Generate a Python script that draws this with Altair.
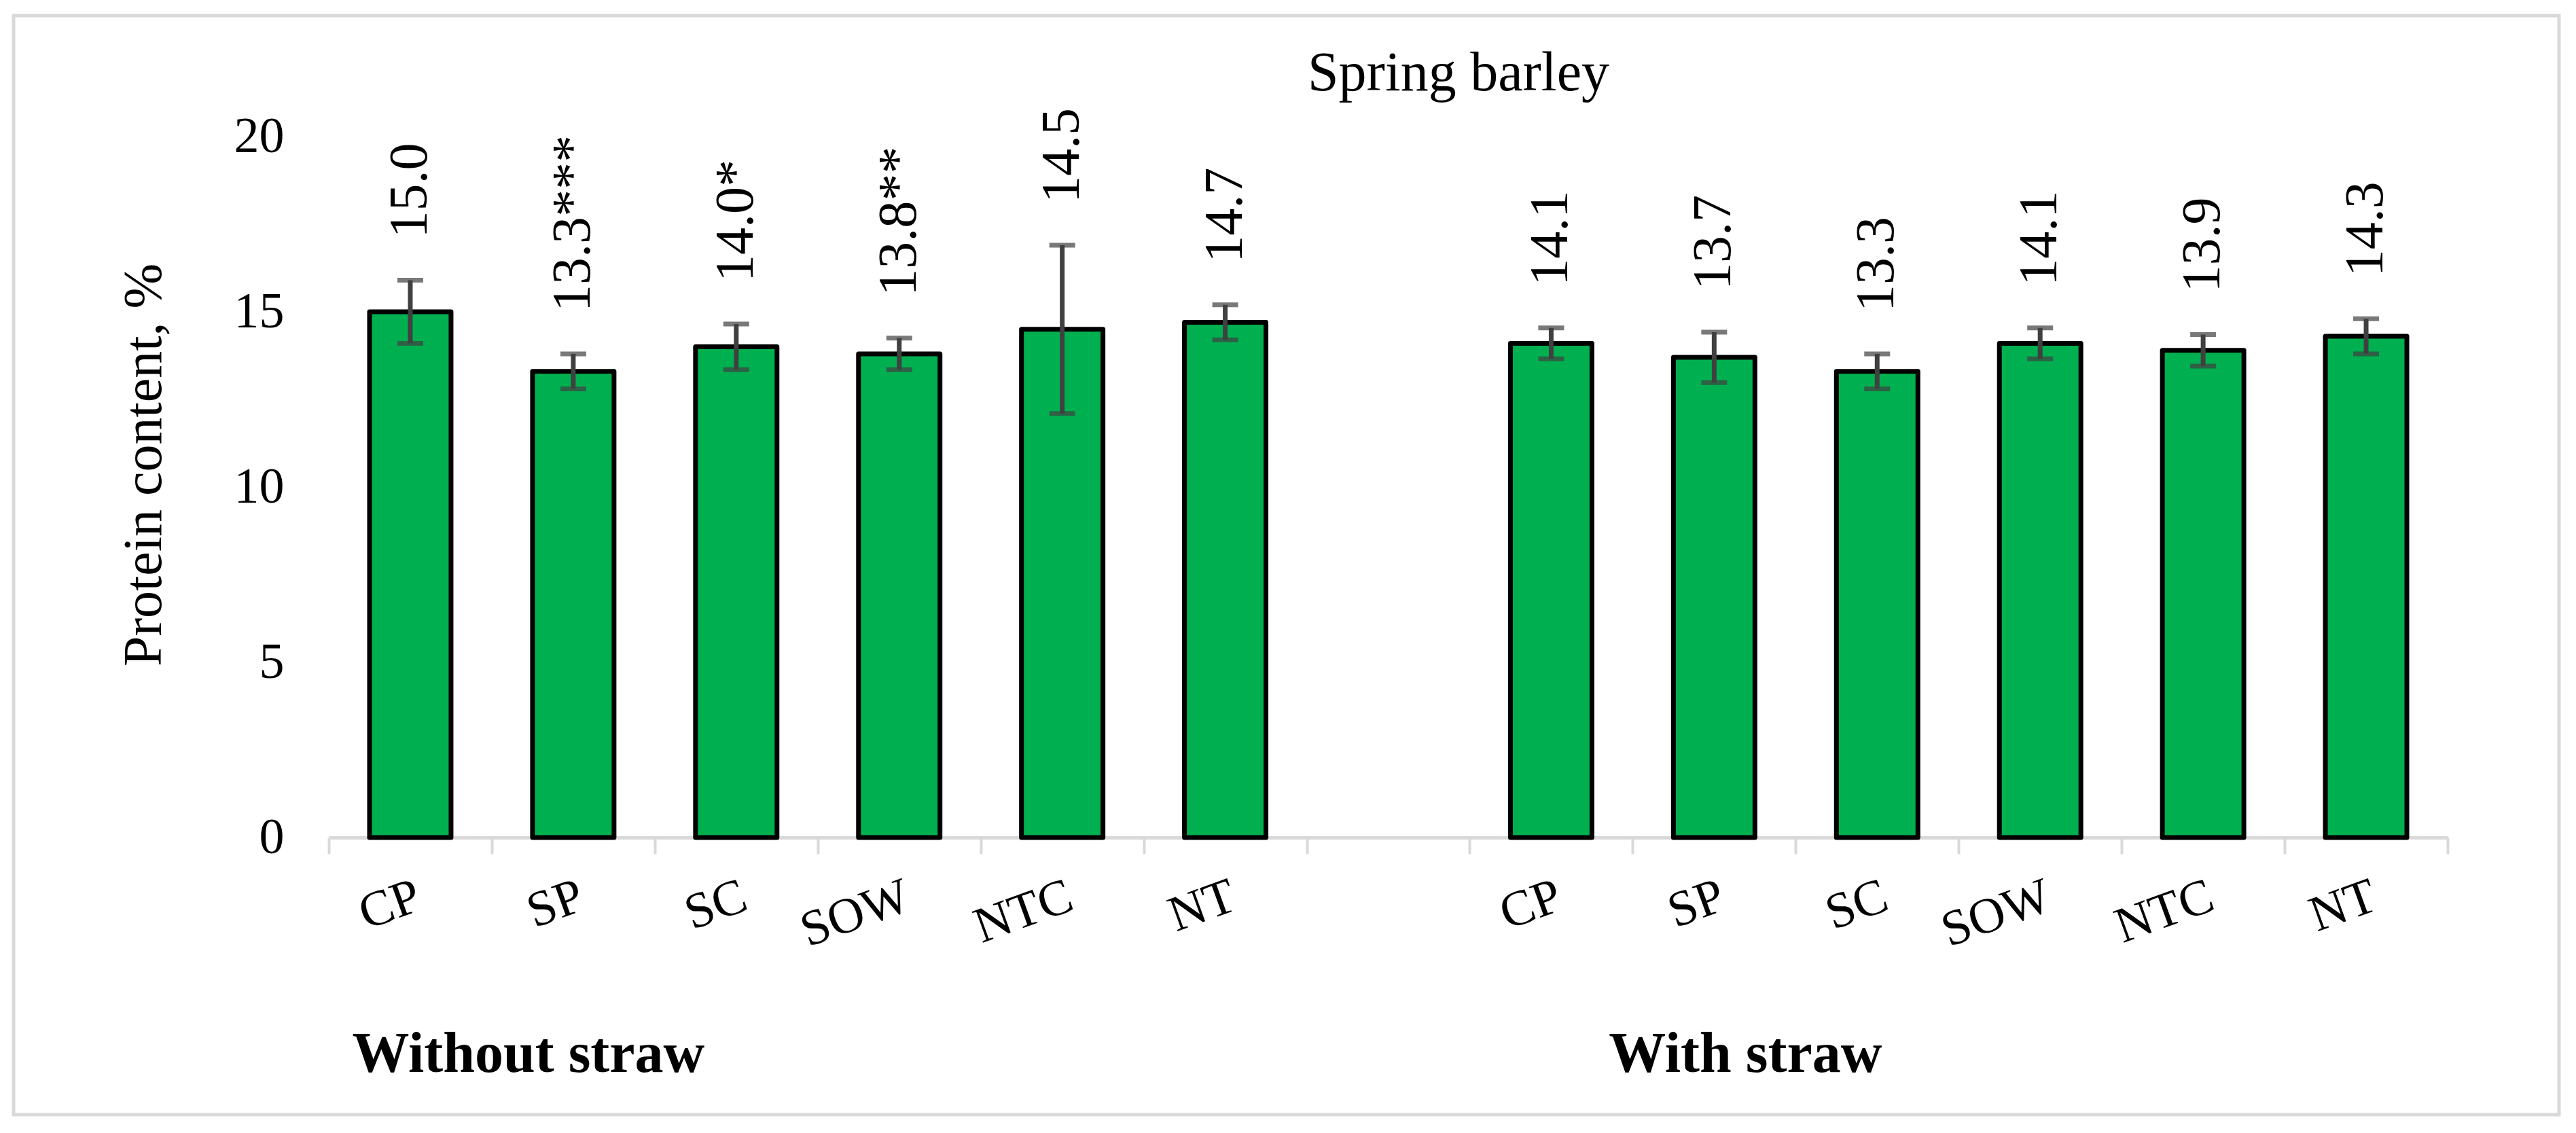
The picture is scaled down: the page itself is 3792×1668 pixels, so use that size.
import altair as alt
import pandas as pd

# ---- data ----
treatments = ["CP", "SP", "SC", "SOW", "NTC", "NT"]
without_values = [15.0, 13.3, 14.0, 13.8, 14.5, 14.7]
without_err = [0.9, 0.5, 0.65, 0.45, 2.4, 0.5]
without_sig = ["", "***", "*", "**", "", ""]
with_values = [14.1, 13.7, 13.3, 14.1, 13.9, 14.3]
with_err = [0.44, 0.72, 0.5, 0.44, 0.45, 0.5]
with_sig = ["", "", "", "", "", ""]
groups = ["Without straw", "With straw"]
y_ticks = [0, 5, 10, 15, 20]
title_text = "Spring barley"
y_title = "Protein content, %"

# unique keys per slot (trailing spaces trimmed in the axis labels)
keys_without = list(treatments)
keys_with = [t + " " for t in treatments]
gap_key = "  "
domain = keys_without + [gap_key] + keys_with

rows = []
for k, v, e, s in zip(keys_without, without_values, without_err, without_sig):
    rows.append({"key": k, "value": v, "err": e, "label": f"{v:.1f}{s}"})
for k, v, e, s in zip(keys_with, with_values, with_err, with_sig):
    rows.append({"key": k, "value": v, "err": e, "label": f"{v:.1f}{s}"})
df = pd.DataFrame(rows)

FONT = "Liberation Serif"
W, H = 3119, 1032
GRAY = "#d9d9d9"
ERR = "#404040"

xscale = alt.Scale(domain=domain, paddingInner=0, paddingOuter=0)
x = alt.X(
    "key:N",
    scale=xscale,
    sort=domain,
    axis=alt.Axis(
        title=None,
        labelExpr="trim(datum.label)",
        labelAngle=-20,
        labelFont=FONT,
        labelFontSize=74,
        labelColor="black",
        labelPadding=26,
        domainColor=GRAY,
        domainWidth=5,
        tickColor=GRAY,
        tickWidth=4,
        tickSize=24,
        tickBand="extent",
        grid=False,
    ),
)
yscale = alt.Scale(domain=[0, 20], nice=False)
y = alt.Y(
    "value:Q",
    scale=yscale,
    axis=alt.Axis(
        values=y_ticks,
        title=y_title,
        titleFont=FONT,
        titleFontSize=80,
        titleFontWeight="normal",
        titleColor="black",
        titleX=-272,
        titleY=483,
        titleAngle=270,
        titleAlign="center",
        titleBaseline="middle",
        labelFont=FONT,
        labelFontSize=74,
        labelColor="black",
        labelPadding=66,
        domain=False,
        ticks=False,
        tickSize=0,
        grid=False,
    ),
)

base = alt.Chart(df).transform_calculate(
    lo="datum.value - datum.err", hi="datum.value + datum.err"
)

frame = alt.Chart(pd.DataFrame({"a": [0]})).mark_rect(
    fill="transparent", stroke=GRAY, strokeWidth=5
).encode(
    x=alt.value(-464), x2=alt.value(3283), y=alt.value(-178), y2=alt.value(1440)
)

bars = base.mark_bar(
    width={"band": 0.5}, color="#00b050", stroke="black", strokeWidth=7,
    strokeJoin="round",
).encode(x=x, y=y)

rule = base.mark_rule(color=ERR, strokeWidth=7).encode(
    x=alt.X("key:N", scale=xscale, sort=domain),
    y=alt.Y("lo:Q", scale=yscale),
    y2="hi:Q",
)
cap_hi = base.mark_tick(orient="horizontal", size=38, thickness=7, color=ERR).encode(
    x=alt.X("key:N", scale=xscale, sort=domain), y=alt.Y("hi:Q", scale=yscale)
)
cap_lo = base.mark_tick(orient="horizontal", size=38, thickness=7, color=ERR).encode(
    x=alt.X("key:N", scale=xscale, sort=domain), y=alt.Y("lo:Q", scale=yscale)
)
labels = base.mark_text(
    angle=270, align="left", baseline="middle", dx=62,
    font=FONT, fontSize=80, color="black",
).encode(
    x=alt.X("key:N", scale=xscale, sort=domain),
    y=alt.Y("hi:Q", scale=yscale),
    text="label:N",
)

gdf = pd.DataFrame({"key": [keys_without[1], keys_with[1]], "group": groups})
g1 = alt.Chart(gdf).transform_filter(alt.datum.group == groups[0]).mark_text(
    font=FONT, fontSize=84, fontWeight="bold", color="black",
    align="center", baseline="alphabetic", dx=-66,
).encode(x=alt.X("key:N", scale=xscale, sort=domain), y=alt.value(1377), text="group:N")
g2 = alt.Chart(gdf).transform_filter(alt.datum.group == groups[1]).mark_text(
    font=FONT, fontSize=84, fontWeight="bold", color="black",
    align="center", baseline="alphabetic", dx=46,
).encode(x=alt.X("key:N", scale=xscale, sort=domain), y=alt.value(1377), text="group:N")

title = alt.Chart(pd.DataFrame({"t": [title_text]})).mark_text(
    font=FONT, fontSize=82, color="black", align="center", baseline="alphabetic"
).encode(x=alt.value(1663), y=alt.value(-68), text="t:N")

chart = (
    alt.layer(frame, bars, rule, cap_hi, cap_lo, labels, g1, g2, title)
    .properties(
        width=W,
        height=H,
        autosize=alt.AutoSizeParams(type="none"),
        padding={"left": 476, "top": 193, "right": 181, "bottom": 427},
        background="white",
    )
    .configure_view(strokeWidth=0)
)

chart.save("out.html", embed_options={"renderer": "svg", "actions": False})
